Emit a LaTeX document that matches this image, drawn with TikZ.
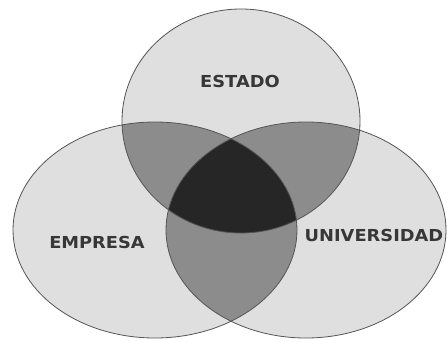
\documentclass[tikz,border=0pt]{standalone}
\usepackage{fontspec}
\newfontfamily\vennfont[FakeStretch=1.08]{DejaVu Sans}
\definecolor{claro}{RGB}{223,223,223}
\definecolor{medio}{RGB}{140,140,140}
\definecolor{oscuro}{RGB}{38,38,38}
\definecolor{borde}{RGB}{85,85,85}
\definecolor{texto}{RGB}{55,55,55}
\begin{document}
\begin{tikzpicture}[
        x=1pt, y=1pt,
        conjunto/.style={draw=borde, line width=0.8pt},
        etiqueta/.style={text=texto, font=\vennfont\bfseries\fontsize{16.5}{18}\selectfont}
    ]
    \useasboundingbox[fill=white] (0,0) rectangle (447,341);
    \coordinate (c-estado) at (241,220);
    \coordinate (c-empresa) at (155,111);
    \coordinate (c-univ) at (306,111);
    \def\pestado{(c-estado) ellipse [x radius=119, y radius=112]}
    \def\pempresa{(c-empresa) ellipse [x radius=142, y radius=108]}
    \def\puniv{(c-univ) ellipse [x radius=140, y radius=108]}
    % conjuntos
    \fill[claro] \pestado \pempresa \puniv;
    % intersecciones de dos
    \begin{scope}
        \clip \pestado;
        \fill[medio] \pempresa \puniv;
    \end{scope}
    \begin{scope}
        \clip \pempresa;
        \fill[medio] \puniv;
    \end{scope}
    % interseccion de los tres
    \begin{scope}
        \clip \pestado;
        \clip \pempresa;
        \fill[oscuro] \puniv;
    \end{scope}
    \draw[conjunto] \pestado;
    \draw[conjunto] \pempresa;
    \draw[conjunto] \puniv;
    \node[etiqueta] (estado) at (240,260) {ESTADO};
    \node[etiqueta] (empresa) at (97,99) {EMPRESA};
    \node[etiqueta] (universidad) at (374,106) {UNIVERSIDAD};
\end{tikzpicture}
\end{document}
